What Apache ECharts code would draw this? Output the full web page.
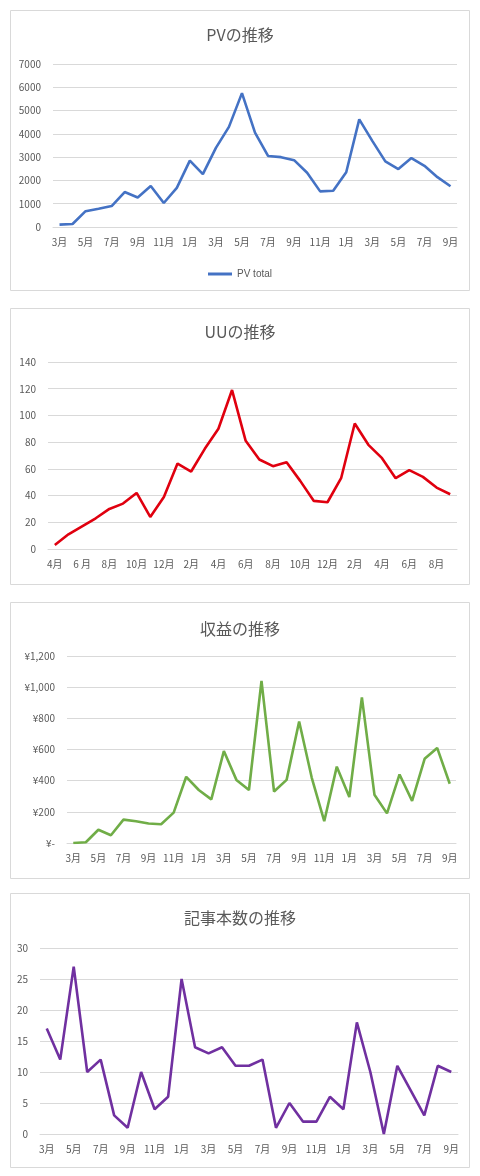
<!DOCTYPE html><html><head><meta charset="utf-8">
<script src="https://cdn.jsdelivr.net/npm/echarts@6/dist/echarts.min.js"></script>
<style>body{margin:0;background:#fff}#c{width:480px;height:1176px}</style></head><body><div id="c"></div>
<script>
const months1 = ['3月','4月','5月','6月','7月','8月','9月','10月','11月','12月','1月','2月','3月','4月','5月','6月','7月','8月','9月','10月','11月','12月','1月','2月','3月','4月','5月','6月','7月','8月','9月'];
const months2 = ['4月','5月','6 月','7月','8月','9月','10月','11月','12月','1月','2月','3月','4月','5月','6月','7月','8月','9月','10月','11月','12月','1月','2月','3月','4月','5月','6月','7月','8月','9月'];
const pvTotal = [100,130,680,780,900,1500,1270,1760,1030,1680,2850,2270,3400,4300,5750,4050,3050,3000,2870,2330,1530,1560,2350,4620,3700,2820,2490,2960,2630,2140,1750];
const uu = [3,11,17,23,30,34,42,24,39,64,58,75,90,119,81,67,62,65,51,36,35,53,94,78,68,53,59,54,46,41];
const revenue = [0,5,85,50,150,140,125,120,195,425,340,280,590,405,340,1040,330,405,780,420,140,490,295,935,310,190,440,270,540,610,380];
const articles = [17,12,27,10,12,3,1,10,4,6,25,14,13,14,11,11,12,1,5,2,2,6,4,18,10,0,11,7,3,11,10];
const titles = ['PVの推移','UUの推移','収益の推移','記事本数の推移'];

const panels=[[10,10,280],[10,308,276],[10,602,276],[10,893,274]];
const grids=[
 {left:53,top:64,width:404,height:163},
 {left:48,top:362,width:409,height:187},
 {left:67,top:656,width:389,height:187},
 {left:40,top:948,width:418,height:186}];
const lab={color:'#595959',fontSize:10,fontFamily:'Noto Sans CJK JP'};
const split={lineStyle:{color:'#d9d9d9'}};
const cats=[months1,months2,months1,months1];
const data=[pvTotal,uu,revenue,articles];
const colors=['#4472C4','#E0000F','#70AD47','#7030A0'];
const ymax=[7000,140,1200,30], yint=[1000,20,200,5];
const names=['PV total','UU','収益','記事本数'];
const option={
 animation:false,
 graphic:panels.map(p=>({type:'rect',shape:{x:p[0]+0.5,y:p[1]+0.5,width:459,height:p[2]},style:{fill:'none',stroke:'#d9d9d9',lineWidth:1}})),
 title:titles.map((t,i)=>({text:t,left:'center',top:[22,319,616,905][i],textStyle:{color:'#595959',fontSize:16,fontWeight:'normal',fontFamily:'Noto Sans CJK JP'}})),
 legend:{data:['PV total'],top:264,left:'center',itemWidth:24,itemHeight:3,icon:'rect',textStyle:{color:'#595959',fontSize:10}},
 grid:grids,
 xAxis:cats.map((c,i)=>({type:'category',gridIndex:i,data:c,boundaryGap:true,axisTick:{show:false},axisLine:{lineStyle:{color:'#d9d9d9'}},axisLabel:Object.assign({interval:1,margin:10},lab)})),
 yAxis:data.map((d,i)=>({type:'value',gridIndex:i,min:0,max:ymax[i],interval:yint[i],splitLine:split,axisLabel:Object.assign({margin:12,formatter:i===2?(v=>v===0?'¥-':'¥'+v.toLocaleString('en-US')):(v=>String(v))},lab)})),
 series:data.map((d,i)=>({type:'line',name:names[i],xAxisIndex:i,yAxisIndex:i,data:d,showSymbol:false,lineStyle:{width:2.6,color:colors[i]},itemStyle:{color:colors[i]}}))
};
echarts.init(document.getElementById('c')).setOption(option);
</script></body></html>
